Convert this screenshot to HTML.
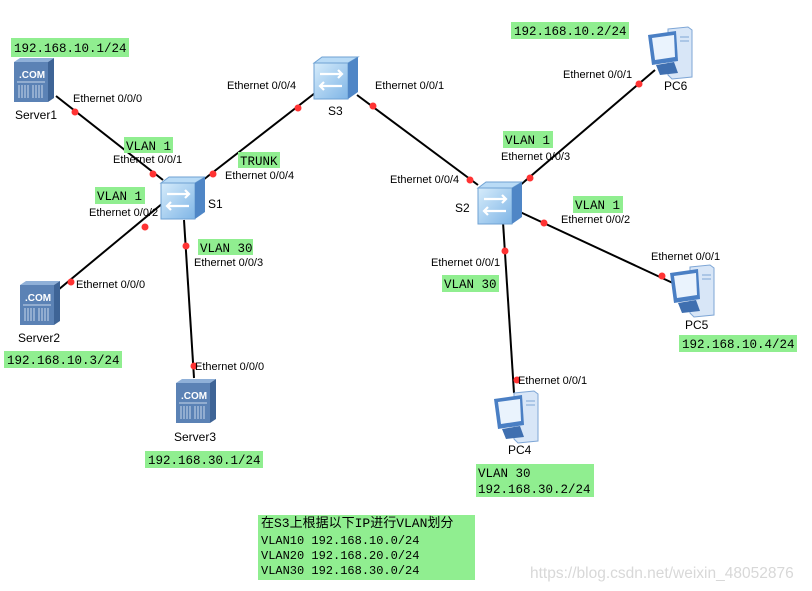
<!DOCTYPE html>
<html><head><meta charset="utf-8"><style>
html,body{margin:0;padding:0;background:#fff;}
svg{display:block;}
.e{font-family:"Liberation Sans",sans-serif;font-size:11px;fill:#000;}
.n{font-family:"Liberation Sans",sans-serif;font-size:12px;fill:#000;}
.m{font-family:"Liberation Mono","Noto Sans CJK SC",monospace;font-size:12.5px;fill:#000;}
.g{fill:#90ee90;}
.com{font-family:"Liberation Sans",sans-serif;font-size:10px;font-weight:bold;fill:#fff;}
</style></head><body>
<svg width="812" height="591" viewBox="0 0 812 591" xmlns="http://www.w3.org/2000/svg">
<defs>
<linearGradient id="sw" x1="0" y1="0" x2="1" y2="1"><stop offset="0" stop-color="#d6ecfb"/><stop offset="1" stop-color="#7fb5e6"/></linearGradient>
<g id="switch">
<polygon points="0,6 34,6 34,42 0,42" fill="url(#sw)" stroke="#6fa2d3"/>
<polygon points="0,6 8,0 44,0 34,6" fill="#b9dbf6" stroke="#6fa2d3"/>
<polygon points="34,6 44,0 44,35 34,42" fill="#4f86c6"/>
<path d="M6,17 H28 M24,13 L28,17 L24,21 M28,29 H6 M10,25 L6,29 L10,33" stroke="#fff" stroke-width="2.2" fill="none"/>
</g>
<g id="server">
<polygon points="0,4 34,4 34,44 0,44" fill="#5b82b5"/>
<polygon points="0,4 6,0 40,0 34,4" fill="#8fb0d8"/>
<polygon points="34,4 40,0 40,40 34,44" fill="#3e6496"/>
<path d="M3,24 H31" stroke="#c8d8ec"/>
<g stroke="#c8d8ec" stroke-width="1"><path d="M5,27V40M8,27V40M11,27V40M14,27V40M19,27V40M22,27V40M25,27V40M28,27V40"/></g>
</g>
<g id="pc">
<polygon points="20,2 40,0 44,3 44,50 24,52 20,48" fill="#d8e6f7" stroke="#7ea6d6"/>
<polygon points="0,8 28,4 30,34 4,38" fill="#4a7fc4"/>
<polygon points="4,11 26,8 27,30 7,33" fill="#eaf3fd"/>
<polygon points="8,38 26,35 30,46 12,48" fill="#3f6fb0"/>
<path d="M32,10 H41 M32,14 H41" stroke="#7ea6d6"/>
</g>
</defs>

<g stroke="#000" stroke-width="2">
<line x1="56" y1="96" x2="163" y2="180"/>
<line x1="203" y1="180" x2="315" y2="93"/>
<line x1="163" y1="203" x2="58" y2="290"/>
<line x1="184" y1="220" x2="194" y2="378"/>
<line x1="357" y1="95" x2="478" y2="185"/>
<line x1="518" y1="187" x2="655" y2="70"/>
<line x1="520" y1="212" x2="675" y2="284"/>
<line x1="503" y1="222" x2="514" y2="393"/>
</g>
<g fill="#f33">
<circle cx="75" cy="112" r="3.5"/><circle cx="153" cy="174" r="3.5"/>
<circle cx="213" cy="174" r="3.5"/><circle cx="298" cy="108" r="3.5"/>
<circle cx="145" cy="227" r="3.5"/><circle cx="71" cy="282" r="3.5"/>
<circle cx="186" cy="246" r="3.5"/><circle cx="194" cy="366" r="3.5"/>
<circle cx="373" cy="106" r="3.5"/><circle cx="470" cy="180" r="3.5"/>
<circle cx="530" cy="178" r="3.5"/><circle cx="639" cy="84" r="3.5"/>
<circle cx="544" cy="223" r="3.5"/><circle cx="662" cy="276" r="3.5"/>
<circle cx="505" cy="251" r="3.5"/><circle cx="517" cy="380" r="3.5"/>
</g>

<use href="#server" x="14" y="58"/><text class="com" x="19" y="78">.COM</text>
<use href="#server" x="20" y="281"/><text class="com" x="25" y="301">.COM</text>
<use href="#server" x="176" y="379"/><text class="com" x="181" y="399">.COM</text>
<use href="#switch" x="161" y="177"/>
<use href="#switch" x="314" y="57"/>
<use href="#switch" x="478" y="182"/>
<use href="#pc" x="648" y="27"/>
<use href="#pc" x="670" y="265"/>
<use href="#pc" x="494" y="391"/>

<text class="n" x="15" y="119">Server1</text>
<text class="n" x="18" y="342">Server2</text>
<text class="n" x="174" y="441">Server3</text>
<text class="n" x="208" y="208">S1</text>
<text class="n" x="328" y="115">S3</text>
<text class="n" x="455" y="212">S2</text>
<text class="n" x="664" y="90">PC6</text>
<text class="n" x="685" y="329">PC5</text>
<text class="n" x="508" y="454">PC4</text>

<text class="e" x="73" y="102">Ethernet 0/0/0</text>
<text class="e" x="113" y="163">Ethernet 0/0/1</text>
<text class="e" x="227" y="89">Ethernet 0/0/4</text>
<text class="e" x="225" y="179">Ethernet 0/0/4</text>
<text class="e" x="89" y="216">Ethernet 0/0/2</text>
<text class="e" x="194" y="266">Ethernet 0/0/3</text>
<text class="e" x="76" y="288">Ethernet 0/0/0</text>
<text class="e" x="195" y="370">Ethernet 0/0/0</text>
<text class="e" x="375" y="89">Ethernet 0/0/1</text>
<text class="e" x="390" y="183">Ethernet 0/0/4</text>
<text class="e" x="563" y="78">Ethernet 0/0/1</text>
<text class="e" x="501" y="160">Ethernet 0/0/3</text>
<text class="e" x="561" y="223">Ethernet 0/0/2</text>
<text class="e" x="431" y="266">Ethernet 0/0/1</text>
<text class="e" x="651" y="260">Ethernet 0/0/1</text>
<text class="e" x="518" y="384">Ethernet 0/0/1</text>

<rect class="g" x="11" y="38" width="118" height="19"/><text class="m" x="14" y="52">192.168.10.1/24</text>
<rect class="g" x="124" y="137" width="49" height="16"/><text class="m" x="126" y="150">VLAN 1</text>
<rect class="g" x="238" y="152" width="42" height="16"/><text class="m" x="240" y="165">TRUNK</text>
<rect class="g" x="95" y="187" width="50" height="17"/><text class="m" x="97" y="200">VLAN 1</text>
<rect class="g" x="198" y="239" width="55" height="16"/><text class="m" x="200" y="252">VLAN 30</text>
<rect class="g" x="4" y="351" width="118" height="17"/><text class="m" x="7" y="364">192.168.10.3/24</text>
<rect class="g" x="145" y="451" width="118" height="17"/><text class="m" x="148" y="464">192.168.30.1/24</text>
<rect class="g" x="511" y="22" width="118" height="17"/><text class="m" x="514" y="35">192.168.10.2/24</text>
<rect class="g" x="503" y="131" width="50" height="17"/><text class="m" x="505" y="144">VLAN 1</text>
<rect class="g" x="573" y="196" width="50" height="17"/><text class="m" x="575" y="209">VLAN 1</text>
<rect class="g" x="442" y="275" width="57" height="17"/><text class="m" x="444" y="288">VLAN 30</text>
<rect class="g" x="679" y="335" width="118" height="17"/><text class="m" x="682" y="348">192.168.10.4/24</text>
<rect class="g" x="476" y="464" width="118" height="33"/>
<text class="m" x="478" y="477">VLAN 30</text>
<text class="m" x="478" y="493">192.168.30.2/24</text>
<rect class="g" x="258" y="515" width="217" height="65"/>
<text class="m" x="261" y="527" style="font-size:13px">在S3上根据以下IP进行VLAN划分</text>
<text class="m" x="261" y="544" style="font-size:12px">VLAN10 192.168.10.0/24</text>
<text class="m" x="261" y="559" style="font-size:12px">VLAN20 192.168.20.0/24</text>
<text class="m" x="261" y="574" style="font-size:12px">VLAN30 192.168.30.0/24</text>

<text x="530" y="578" style="font-family:'Liberation Sans',sans-serif;font-size:15.5px;fill:#d8d8d8">https://blog.csdn.net/weixin_48052876</text>
</svg>
</body></html>
